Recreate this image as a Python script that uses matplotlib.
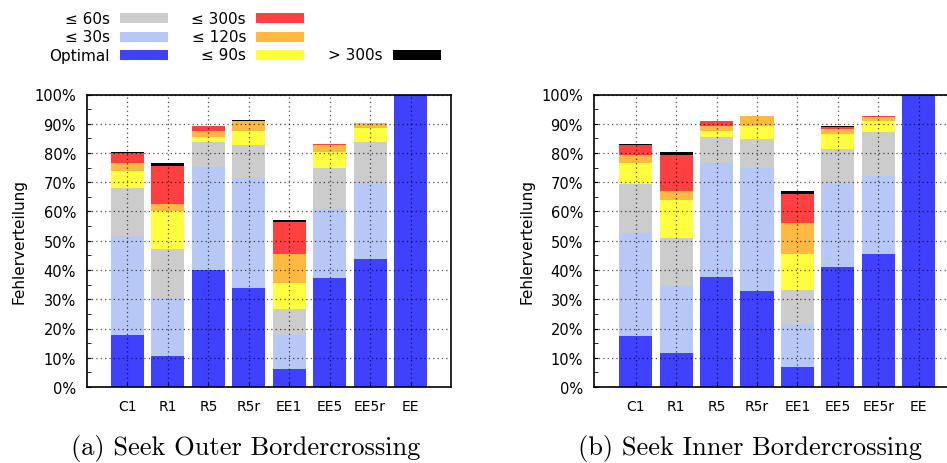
import numpy as np
import matplotlib
matplotlib.use('Agg')
import matplotlib.pyplot as plt
from matplotlib.patches import Rectangle
from matplotlib.ticker import MultipleLocator, FuncFormatter

categories = ['C1', 'R1', 'R5', 'R5r', 'EE1', 'EE5', 'EE5r', 'EE']
labels = ['Optimal', '≤ 30s', '≤ 60s', '≤ 90s', '≤ 120s', '≤ 300s', '> 300s']
colors = ['#4040ff', '#b8c8f6', '#cccccc', '#ffff40', '#ffb840', '#ff4040', '#000000']

# (a) outer bordercrossing, share per category in %
outer_optimal = [17.7, 10.7, 40.1, 33.9, 6.0, 37.4, 43.7, 100]
outer_30 = [34.0, 19.7, 35.1, 37.5, 11.7, 23.3, 25.8, 0]
outer_60 = [16.3, 16.9, 8.7, 11.5, 8.8, 14.2, 14.4, 0]
outer_90 = [6.0, 12.7, 1.7, 4.5, 9.1, 5.5, 4.5, 0]
outer_120 = [2.7, 2.4, 1.8, 3.6, 9.7, 2.5, 1.8, 0]
outer_300 = [3.4, 13.3, 1.7, 0.1, 11.0, 0.1, 0.0, 0]
outer_more = [0.3, 1.0, 0.2, 0.2, 0.9, 0.1, 0.2, 0]

# (b) inner bordercrossing
inner_optimal = [17.6, 11.7, 37.5, 32.8, 6.9, 41.0, 45.5, 100]
inner_30 = [35.1, 23.0, 39.2, 42.2, 14.5, 28.5, 26.7, 0]
inner_60 = [16.6, 16.1, 8.8, 9.7, 11.7, 11.8, 15.1, 0]
inner_90 = [7.3, 13.2, 2.0, 4.4, 12.4, 5.2, 3.5, 0]
inner_120 = [2.6, 2.9, 1.7, 3.4, 10.6, 1.6, 1.6, 0]
inner_300 = [3.5, 12.3, 1.6, 0.1, 9.8, 0.9, 0.2, 0]
inner_more = [0.3, 1.0, 0.2, 0.2, 1.0, 0.3, 0.2, 0]

W, H = 947, 464


def draw_panel(ax, series, xmin):
    x = np.arange(len(categories))
    bottom = np.zeros(len(categories))
    for vals, col in zip(series, colors):
        vals = np.array(vals, dtype=float)
        ax.bar(x, vals, 0.82, bottom=bottom, color=col, linewidth=0)
        bottom += vals
    ax.set_xlim(xmin, xmin + 9)
    ax.set_ylim(0, 100)
    ax.set_xticks(x)
    ax.set_xticklabels(categories, fontsize=10)
    ax.yaxis.set_major_locator(MultipleLocator(10))
    ax.yaxis.set_minor_locator(MultipleLocator(5))
    ax.yaxis.set_major_formatter(FuncFormatter(lambda v, p: '%d%%' % v))
    ax.tick_params(axis='y', labelsize=10.5, direction='in', length=3, pad=8, colors='black')
    ax.tick_params(axis='y', which='minor', direction='in', length=3)
    ax.tick_params(axis='x', direction='in', length=3, pad=9)
    ax.set_axisbelow(False)
    ax.grid(True, color='black', alpha=0.7, linestyle=(0, (1, 2.5)), linewidth=0.9)
    for s in ax.spines.values():
        s.set_linewidth(1.2)
    ax.set_ylabel('Fehlerverteilung', fontsize=11)


fig = plt.figure(figsize=(W / 100, H / 100), dpi=100)

ax1 = fig.add_axes([87 / W, 1 - 388 / H, 364 / W, 292.5 / H])
draw_panel(ax1, [outer_optimal, outer_30, outer_60, outer_90, outer_120, outer_300, outer_more], -1.0)
ax1.yaxis.set_label_coords((26 - 87) / 364, 0.5)

ax2 = fig.add_axes([594 / W, 1 - 388 / H, 364 / W, 292.5 / H])
draw_panel(ax2, [inner_optimal, inner_30, inner_60, inner_90, inner_120, inner_300, inner_more], -1.03)
ax2.yaxis.set_label_coords((535 - 594) / 364, 0.5)

# legend, gnuplot style: label right-aligned in front of the swatch
# (column, row) for each entry in labels
legend_slots = [(0, 2), (0, 1), (0, 0), (1, 2), (1, 1), (1, 0), (2, 2)]
col_x = [110, 246, 383]
row_y = [19, 38, 56]
for (c, r), lab, col in zip(legend_slots, labels, colors):
    fig.text(col_x[c] / W, 1 - row_y[r] / H, lab, ha='right', va='center', fontsize=11)
    fig.patches.append(Rectangle(((col_x[c] + 10) / W, 1 - (row_y[r] + 5) / H), 48 / W, 10 / H,
                                 transform=fig.transFigure, facecolor=col, edgecolor='none'))

fig.text(246 / W, 1 - 449 / H, '(a) Seek Outer Bordercrossing', family='cmr10',
         fontsize=19, ha='center', va='center')
fig.text(750 / W, 1 - 449 / H, '(b) Seek Inner Bordercrossing', family='cmr10',
         fontsize=19, ha='center', va='center')

fig.savefig('out.png', dpi=100)
